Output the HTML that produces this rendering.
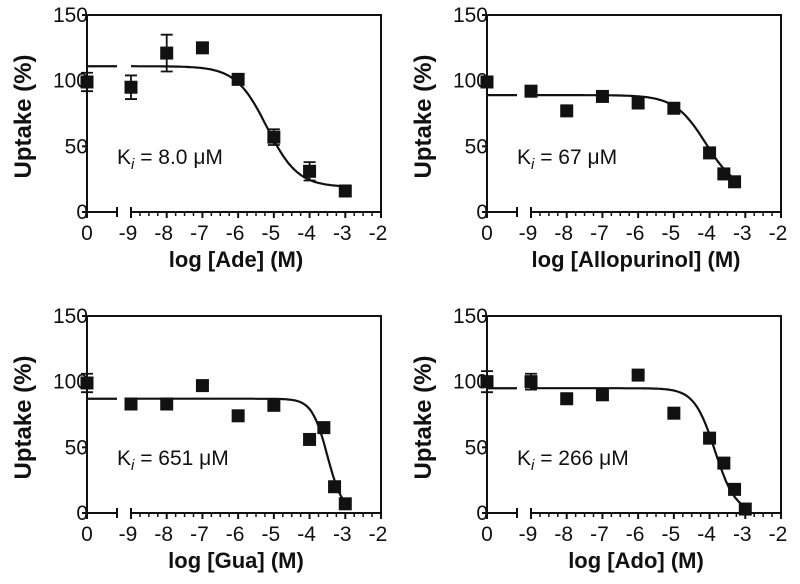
<!DOCTYPE html>
<html><head><meta charset="utf-8"><style>
html,body{margin:0;padding:0;background:#fff;}
svg text{font-family:"Liberation Sans",Arial,sans-serif;fill:#111;}
</style></head><body>
<svg id="fig" width="800" height="579" viewBox="0 0 800 579" xmlns="http://www.w3.org/2000/svg"></svg>
<script>
// Panel data (x: log concentration, 0 = control; y: uptake %)
const panelTitles = ["log [Ade] (M)", "log [Allopurinol] (M)", "log [Gua] (M)", "log [Ado] (M)"];
const kiLabels = ["= 8.0 μM", "= 67 μM", "= 651 μM", "= 266 μM"];
const adeX = [0, -9, -8, -7, -6, -5, -4, -3];
const adeY = [99, 95, 121, 125, 101, 57, 31, 16];
const adeErr = [7, 9, 14, 0, 3, 6, 7, 0];
const alloX = [0, -9, -8, -7, -6, -5, -4, -3.6, -3.3];
const alloY = [99, 92, 77, 88, 83, 79, 45, 29, 23];
const alloErr = [0, 0, 0, 0, 0, 0, 3, 0, 0];
const guaX = [0, -9, -8, -7, -6, -5, -4, -3.6, -3.3, -3];
const guaY = [99, 83, 83, 97, 74, 82, 56, 65, 20, 7];
const guaErr = [7, 0, 4, 0, 0, 0, 0, 0, 4, 0];
const adoX = [0, -9, -8, -7, -6, -5, -4, -3.6, -3.3, -3];
const adoY = [100, 100, 87, 90, 105, 76, 57, 38, 18, 3];
const adoErr = [8, 6, 0, 3, 0, 4, 0, 4, 0, 0];
// Fit parameters: top, bottom, logIC50, hill, fit end
const fitTop = [111, 89, 87, 95];
const fitBottom = [19, 15, 0, 0];
const fitMid = [-5.2, -4.1, -3.5, -3.85];
const fitHill = [1, 1, 2, 1.5];
const fitEnd = [-3, -3.3, -3, -3];
const yTicks = [0, 50, 100, 150];
const xTicks = [-9, -8, -7, -6, -5, -4, -3, -2];

const xsArr = [adeX, alloX, guaX, adoX];
const ysArr = [adeY, alloY, guaY, adoY];
const esArr = [adeErr, alloErr, guaErr, adoErr];
const NS = "http://www.w3.org/2000/svg";
const svg = document.getElementById("fig");
function mk(tag, attrs, parent) {
  const e = document.createElementNS(NS, tag);
  for (const k in attrs) e.setAttribute(k, attrs[k]);
  parent.appendChild(e);
  return e;
}
const offs = [[0, 0], [400, 0], [0, 301], [400, 301]];
const names = ["ade", "allopurinol", "gua", "ado"];
for (let p = 0; p < 4; p++) {
  const ox = offs[p][0], oy = offs[p][1];
  const g = mk("g", {}, svg);
  
  
  const L = 87 + ox, R = 381 + ox, T = 15 + oy, B = 212 + oy;
  const x0 = L, xs = v => v === 0 ? x0 : 131 + ox + (v + 9) * (R - 131 - ox) / 7;
  const ys = v => B - v * (B - T) / 150;
  const ax = mk("path", {d: `M${L},${T} H${R} V${B} M${L},${T} V${B} H${L + 30} M${131 + ox},${B} H${R}`, stroke: "#111", "stroke-width": 2, fill: "none"}, g);
  
  
  mk("line", {x1: L + 30, y1: B - 5, x2: L + 30, y2: B + 5, stroke: "#111", "stroke-width": 2}, g);
  mk("line", {x1: 131 + ox, y1: B - 5, x2: 131 + ox, y2: B + 5, stroke: "#111", "stroke-width": 2}, g);
  for (let i = 0; i < yTicks.length; i++) {
    const y = ys(yTicks[i]);
    mk("line", {x1: L - 5, y1: y, x2: L, y2: y, stroke: "#111", "stroke-width": 2}, g);
    const t = mk("text", {x: L + 1, y: y + 7, "font-size": 21, "text-anchor": "end"}, g);
    t.textContent = yTicks[i];
    
    
  }
  mk("line", {x1: x0, y1: B, x2: x0, y2: B + 6, stroke: "#111", "stroke-width": 2}, g);
  const t0 = mk("text", {x: x0, y: B + 28, "font-size": 21, "text-anchor": "middle"}, g);
  t0.textContent = "0";
  
  
  for (let i = 0; i < xTicks.length; i++) {
    const x = xs(xTicks[i]);
    mk("line", {x1: x, y1: B, x2: x, y2: B + 6, stroke: "#111", "stroke-width": 2}, g);
    if (i < xTicks.length - 1) for (let m = 1; m < 4; m++) {
      const xm = xs(xTicks[i] + m / 4);
      mk("line", {x1: xm, y1: B, x2: xm, y2: B + 4, stroke: "#111", "stroke-width": 1.5}, g);
    }
    const t = mk("text", {x: x - 3, y: B + 28, "font-size": 21, "text-anchor": "middle"}, g);
    t.textContent = xTicks[i];
    
    
  }
  const xt = mk("text", {x: 236 + ox, y: B + 55, "font-size": 22, "font-weight": "bold", "text-anchor": "middle"}, g);
  xt.textContent = panelTitles[p];
  
  
  const yt = mk("text", {x: 0, y: 0, "font-size": 24, "font-weight": "bold", "text-anchor": "middle", transform: `translate(${31 + ox},${(T + B) / 2 + 3}) rotate(-90)`}, g);
  yt.textContent = "Uptake (%)";
  
  
  const kt = mk("text", {x: 117 + ox, y: 164 + oy, "font-size": 21}, g);
  kt.innerHTML = 'K<tspan font-style="italic" font-size="15" dy="5">i</tspan><tspan dy="-5"> ' + kiLabels[p] + '</tspan>';
  
  
  const f = v => fitBottom[p] + (fitTop[p] - fitBottom[p]) / (1 + Math.pow(10, (v - fitMid[p]) * fitHill[p]));
  let d = `M${L},${ys(fitTop[p])} H${L + 30} M`;
  for (let v = -9; v <= fitEnd[p] + 1e-9; v += 0.05) d += `${xs(v).toFixed(1)},${ys(f(v)).toFixed(1)} L`;
  d = d.slice(0, -2);
  const c = mk("path", {d: d, stroke: "#111", "stroke-width": 2.2, fill: "none"}, g);
  
  
  const X = xsArr[p], Y = ysArr[p], E = esArr[p];
  for (let i = 0; i < X.length; i++) {
    const cx = xs(X[i]), cy = ys(Y[i]);
    if (E[i] > 0) {
      const eb = mk("path", {d: `M${cx},${ys(Y[i] + E[i])} V${ys(Y[i] - E[i])} M${cx - 6},${ys(Y[i] + E[i])} H${cx + 6} M${cx - 6},${ys(Y[i] - E[i])} H${cx + 6}`, stroke: "#111", "stroke-width": 1.8, fill: "none"}, g);
      
      
    }
    const r = mk("rect", {x: cx - 6.5, y: cy - 6.5, width: 13, height: 13, fill: "#111"}, g);
    
    
  }
}
</script>
</body></html>
